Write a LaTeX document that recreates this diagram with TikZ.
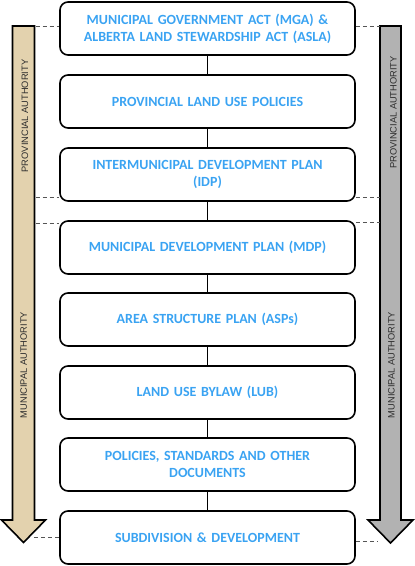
\documentclass[tikz,border=0pt]{standalone}
\usepackage{fontspec}
\setmainfont{Carlito}
\newfontfamily\labelfont{Liberation Sans}
\definecolor{txtblue}{HTML}{3AA3F2}
\definecolor{tanfill}{HTML}{E3D2AE}
\definecolor{greyfill}{HTML}{B2B2B2}
\definecolor{dashgrey}{HTML}{555555}
\definecolor{labelgrey}{HTML}{2E2E2E}
\begin{document}
\begin{tikzpicture}[x=1pt,y=-1pt,
  box/.style={draw=black,line width=1.6pt,rounded corners=8pt,minimum width=295pt,minimum height=53pt,
    text width=280pt,align=center,font=\bfseries\fontsize{14}{17}\selectfont,text=txtblue,inner sep=0pt},
  link/.style={draw=black,line width=1.6pt},
  sep/.style={draw=dashgrey,line width=1pt,dash pattern=on 4pt off 3pt},
  bigarrow/.style={draw=black,line width=1.6pt,line join=miter},
  side/.style={rotate=90,font=\labelfont\fontsize{9.3}{10}\selectfont,text=labelgrey,inner sep=0pt,anchor=base}
]
\useasboundingbox (0,0) rectangle (415,566);
% big arrows
\draw[bigarrow,fill=tanfill] (12.5,26) -- (34.5,26) -- (34.5,520) -- (45.5,520) -- (23.5,542.5) -- (1.5,520) -- (12.5,520) -- cycle;
\draw[bigarrow,fill=greyfill] (380,26) -- (401,26) -- (401,520) -- (413,520) -- (390.5,543) -- (368,520) -- (380,520) -- cycle;
\node[side] (lp) at (28,116) {PROVINCIAL AUTHORITY};
\node[side] (lm) at (27,365) {MUNICIPAL AUTHORITY};
\node[side] (rp) at (396.5,112.5) {PROVINCIAL AUTHORITY};
\node[side] (rm) at (394.5,365) {MUNICIPAL AUTHORITY};
% boxes
\node[box] (b1) at (207.5,28.5) {MUNICIPAL GOVERNMENT ACT (MGA) \&\\ALBERTA LAND STEWARDSHIP ACT (ASLA)};
\node[box] (b2) at (207.5,101.5) {PROVINCIAL LAND USE POLICIES};
\node[box] (b3) at (207.5,174.5) {INTERMUNICIPAL DEVELOPMENT PLAN\\(IDP)};
\node[box] (b4) at (207.5,247.5) {MUNICIPAL DEVELOPMENT PLAN (MDP)};
\node[box] (b5) at (207.5,319.5) {AREA STRUCTURE PLAN (ASPs)};
\node[box] (b6) at (207.5,392.5) {LAND USE BYLAW (LUB)};
\node[box] (b7) at (207.5,464.5) {POLICIES, STANDARDS AND OTHER\\DOCUMENTS};
\node[box] (b8) at (207.5,537.5) {SUBDIVISION \& DEVELOPMENT};
\foreach \a/\b in {b1/b2,b2/b3,b3/b4,b4/b5,b5/b6,b6/b7,b7/b8}
  \draw[link] (\a.south) -- (\b.north);
% dashed separators
\coordinate (l1) at (35.5,26);   \coordinate (r1) at (379.5,26);
\coordinate (l2) at (35.5,197.5); \coordinate (r2) at (379.5,197.5);
\coordinate (l3) at (35.5,223);  \coordinate (r3) at (379.5,222.5);
\coordinate (l4) at (34,537);  \coordinate (r4) at (377,541);
\draw[sep] (l1) -- (l1 -| b1.west);
\draw[sep] (b1.east |- r1) -- (r1);
\draw[sep] (l2) -- (l2 -| b3.west);
\draw[sep] (b3.east |- r2) -- (r2);
\draw[sep] (l3) -- (l3 -| b4.west);
\draw[sep] (b4.east |- r3) -- (r3);
\draw[sep] (l4) -- (l4 -| b8.west);
\draw[sep] (b8.east |- r4) -- (r4);
\end{tikzpicture}
\end{document}
